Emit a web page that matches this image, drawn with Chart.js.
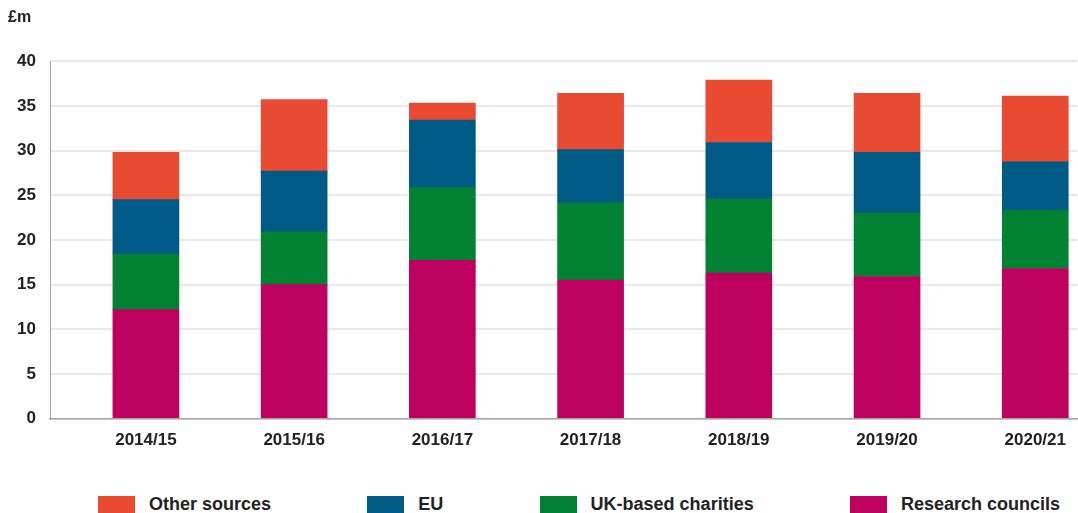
<!DOCTYPE html>
<html>
<head>
<meta charset="utf-8">
<script src="https://cdn.jsdelivr.net/npm/chart.js@4.4.1/dist/chart.umd.min.js"></script>
<style>
  html, body { margin: 0; padding: 0; background: #fff; overflow: hidden; }
  #wrap { position: relative; width: 1078px; height: 513px; }
  #box { position: absolute; left: 0; top: 0; width: 1078px; height: 470px; }
  #legend {
    position: absolute; left: 98px; right: 18px; top: 494px; height: 21px;
    display: flex; justify-content: space-between; align-items: center;
    font: bold 18px "Liberation Sans", Arial, sans-serif; color: #222;
  }
  #legend .item { display: flex; align-items: center; white-space: nowrap; }
  #legend .sw { display: inline-block; width: 37px; height: 17px; margin-right: 14px; }
</style>
</head>
<body>
<div id="wrap">
  <div id="box"><canvas id="funding"></canvas></div>
  <div id="legend"></div>
</div>
<script>
/* ─── 數據 (£m) ─── */
const YEARS = ['2014/15', '2015/16', '2016/17', '2017/18', '2018/19', '2019/20', '2020/21'];
const RESEARCH_COUNCILS = [12.2, 15.0, 17.7, 15.5, 16.3, 15.9, 16.8];
const UK_CHARITIES      = [6.2, 5.9, 8.15, 8.65, 8.3, 7.1, 6.5];
const EU_FUNDS          = [6.1, 6.8, 7.55, 5.95, 6.3, 6.8, 5.45];
const OTHER_SOURCES     = [5.3, 8.0, 1.9, 6.3, 7.0, 6.6, 7.35];
const Y_TICKS = { min: 0, max: 40, step: 5 };

/* ─── 色彩 ─── */
const COLORS = {
    rc: '#be005e',
    charity: '#008232',
    eu: '#005a86',
    other: '#e84a32',
};

const FONT = '"Liberation Sans", Arial, sans-serif';
const TEXT = '#222';

/* 類別索引 → {x, y} */
const pts = arr => arr.map((v, i) => ({ x: i, y: v }));

/* ─── HTML 圖例（由 Chart.js 的 legend items 產生） ─── */
const htmlLegend = {
    id: 'htmlLegend',
    afterUpdate(chart) {
        const el = document.getElementById('legend');
        el.innerHTML = '';
        const items = Chart.defaults.plugins.legend.labels.generateLabels(chart).reverse();
        items.forEach(it => {
            const row = document.createElement('span');
            row.className = 'item';
            const sw = document.createElement('span');
            sw.className = 'sw';
            sw.style.background = it.fillStyle;
            row.appendChild(sw);
            row.appendChild(document.createTextNode(it.text));
            el.appendChild(row);
        });
    },
};

new Chart(document.getElementById('funding'), {
    type: 'bar',
    data: {
        datasets: [
            { label: 'Research councils', data: pts(RESEARCH_COUNCILS), backgroundColor: COLORS.rc },
            { label: 'UK-based charities', data: pts(UK_CHARITIES), backgroundColor: COLORS.charity },
            { label: 'EU', data: pts(EU_FUNDS), backgroundColor: COLORS.eu },
            { label: 'Other sources', data: pts(OTHER_SOURCES), backgroundColor: COLORS.other },
        ],
    },
    options: {
        responsive: true,
        maintainAspectRatio: false,
        animation: false,
        barThickness: 66,
        borderWidth: 0,
        layout: { padding: { left: 8, right: 0, top: 0, bottom: 7 } },
        plugins: {
            legend: { display: false },
            tooltip: { enabled: false },
            title: {
                display: true,
                text: '£m',
                align: 'start',
                color: TEXT,
                font: { family: FONT, size: 16, weight: 'bold' },
                padding: { top: 8, bottom: 34 },
            },
        },
        scales: {
            x: {
                type: 'linear',
                stacked: true,
                offset: false,
                min: -0.647,
                max: 6.283,
                grid: { display: false, drawTicks: false },
                border: { display: true, color: '#a6a6a6', width: 1.5 },
                afterBuildTicks: s => { s.ticks = s.ticks.filter(t => Number.isInteger(t.value)); },
                ticks: {
                    stepSize: 1,
                    includeBounds: false,
                    autoSkip: false,
                    maxRotation: 0,
                    padding: 12,
                    color: TEXT,
                    font: { family: FONT, size: 17, weight: 'bold' },
                    callback: v => YEARS[v],
                },
            },
            y: {
                stacked: true,
                min: Y_TICKS.min,
                max: Y_TICKS.max,
                afterFit: s => { s.width = 42; },
                grid: { color: '#e9e9e9', lineWidth: 2, drawTicks: false },
                border: { display: true, color: '#a6a6a6', width: 1 },
                ticks: {
                    stepSize: Y_TICKS.step,
                    padding: 14,
                    color: TEXT,
                    font: { family: FONT, size: 17, weight: 'bold' },
                },
            },
        },
    },
    plugins: [htmlLegend],
});
</script>
</body>
</html>
